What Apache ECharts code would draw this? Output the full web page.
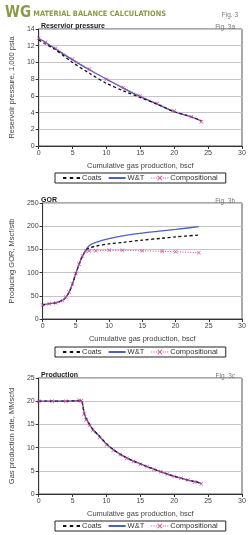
<!DOCTYPE html>
<html><head><meta charset="utf-8">
<script src="https://cdn.jsdelivr.net/npm/echarts@6/dist/echarts.min.js"></script>
<style>html,body{margin:0;padding:0;background:#fff}#c{width:250px;height:535px}</style>
</head><body><div id="c"></div>
<script>
// ---- data ----
const xTickMin = 0, xTickMax = 30, xTickStep = 5;

const presX    = [0, 1, 2.5, 5, 7.5, 10, 12.5, 15, 17.5, 20, 22.5, 24];
const presCoats= [12.7, 12.2, 11.5, 10.0, 8.7, 7.5, 6.6, 5.8, 5.0, 4.1, 3.5, 3.0];
const presWT   = [12.9, 12.4, 11.6, 10.3, 9.1, 8.0, 6.9, 5.9, 5.0, 4.1, 3.5, 3.0];
const presComp = [12.9, 12.4, 11.7, 10.4, 9.2, 8.0, 7.0, 6.0, 5.1, 4.2, 3.5, 2.9];

const gorX     = [0, 1, 2, 3, 3.5, 4, 4.5, 5, 5.5, 6, 6.5, 7, 8, 10, 12, 15, 18, 20, 23.5];
const gorCoats = [30, 33, 35, 40, 47, 58, 76, 98, 118, 136, 147, 153, 157, 162, 165, 170, 174, 177, 181];
const gorWT    = [30, 33, 35, 40, 47, 58, 76, 98, 118, 136, 148, 158, 165, 173, 179, 185, 190, 193, 199];
const gorComp  = [30, 33, 35, 40, 47, 58, 76, 98, 118, 136, 146, 147, 147, 148, 148, 147, 146, 145, 143];

const prodX    = [0, 2, 4, 6, 6.3, 6.7, 7, 7.5, 8, 9, 10, 11, 12, 13, 14, 15, 16, 17, 18, 19, 20, 21, 22, 23, 24];
const prodCoats= [20, 20, 20, 20.1, 20.1, 17.5, 16.2, 15.0, 13.9, 12.4, 10.8, 9.6, 8.6, 7.8, 7.1, 6.5, 5.9, 5.35, 4.8, 4.3, 3.8, 3.4, 3.0, 2.7, 2.3];
const prodWT   = [20, 20, 20, 20.1, 20.1, 17.6, 16.3, 15.0, 13.9, 12.4, 10.8, 9.6, 8.6, 7.8, 7.1, 6.5, 5.9, 5.35, 4.8, 4.3, 3.8, 3.4, 3.0, 2.7, 2.3];
const prodComp = [20, 20, 20, 20.2, 20.1, 17.2, 16.0, 14.8, 13.7, 12.2, 10.6, 9.4, 8.5, 7.7, 7.0, 6.4, 5.9, 5.3, 4.8, 4.3, 3.8, 3.4, 3.0, 2.6, 2.2];

const names = ['Coats', 'W&T', 'Compositional'];
const titles = ['Reservior pressure', 'GOR', 'Production'];
const figs = ['Fig. 3a', 'Fig. 3b', 'Fig. 3c'];
const yNames = ['Reservoir pressure, 1,000 psia', 'Producing GOR, Mscf/stb', 'Gas production rate, MMscfd'];
const yMax = [14, 250, 25], yStep = [2, 50, 5];
const xName = 'Cumulative gas production, bscf';

// ---- styling ----
const FONT = 'Liberation Sans';
const C_COATS = '#111111', C_WT = '#4a62bc', C_COMP = '#d4429e';
const gridTops = [29, 203, 378], gridH = [117, 116, 116];
const legendTops = [173, 347, 521];
const X_PATH = 'path://M0,1L1,0L5,4L9,0L10,1L6,5L10,9L9,10L5,6L1,10L0,9L4,5Z';

const sets = [
  [presX, presCoats, presWT, presComp],
  [gorX, gorCoats, gorWT, gorComp],
  [prodX, prodCoats, prodWT, prodComp]
];

const grids = [], xAxes = [], yAxes = [], series = [], legends = [], titleArr = [];
titleArr.push({text: '{a|WG}{b| MATERIAL BALANCE CALCULATIONS}', left: 0, top: 1,
  textStyle: {rich: {
    a: {fontFamily: 'DejaVu Sans Condensed', fontWeight: 'bold', fontSize: 15, color: '#8d9a45'},
    b: {fontFamily: 'DejaVu Sans Condensed', fontWeight: 'bold', fontSize: 7.4, color: '#8d9a45', padding: [2, 0, 0, 0]}
  }}});
titleArr.push({text: 'Fig. 3', right: 7, top: 7, textStyle: {fontFamily: FONT, fontSize: 6.5, fontWeight: 'normal', color: '#777'}});

for (let i = 0; i < 3; i++) {
  grids.push({left: 36, right: 8, top: gridTops[i], height: gridH[i], show: true, borderColor: '#555', borderWidth: 1, backgroundColor: 'transparent'});
  titleArr.push({text: titles[i], left: 36, top: gridTops[i] - 11, textStyle: {fontFamily: FONT, fontSize: 7, fontWeight: 'bold', color: '#222'}});
  titleArr.push({text: figs[i], right: 10, top: gridTops[i] - 10, textStyle: {fontFamily: FONT, fontSize: 6.5, fontWeight: 'normal', color: '#777'}});
  xAxes.push({type: 'value', gridIndex: i, min: xTickMin, max: xTickMax, interval: xTickStep,
    name: xName, nameLocation: 'middle', nameGap: 16,
    nameTextStyle: {fontFamily: FONT, fontSize: 7.5, color: '#444'},
    axisLine: {lineStyle: {color: '#333', width: 1}}, axisTick: {show: true, length: 3, lineStyle: {color: '#333'}},
    axisLabel: {fontFamily: FONT, fontSize: 7, color: '#444', margin: 4}, splitLine: {show: false}});
  yAxes.push({type: 'value', gridIndex: i, min: 0, max: yMax[i], interval: yStep[i],
    name: yNames[i], nameLocation: 'middle', nameGap: 20, nameRotate: 90,
    nameTextStyle: {fontFamily: FONT, fontSize: 7.5, color: '#444'},
    axisLine: {show: true, lineStyle: {color: '#333', width: 1}}, axisTick: {show: true, length: 3, lineStyle: {color: '#333'}},
    axisLabel: {fontFamily: FONT, fontSize: 7, color: '#444', margin: 4},
    splitLine: {show: true, lineStyle: {color: '#c4c4c4', width: 1}}});
  const [xs, a, b, c] = sets[i];
  const zip = arr => xs.map((x, k) => [x, arr[k]]);
  series.push({name: 'Coats', type: 'line', xAxisIndex: i, yAxisIndex: i, data: zip(a), symbol: 'none', smooth: 0.3,
    color: C_COATS, lineStyle: {color: C_COATS, width: 1.3, type: [3, 2.5]}, z: 3});
  series.push({name: 'W&T', type: 'line', xAxisIndex: i, yAxisIndex: i, data: zip(b), symbol: 'none', smooth: 0.3,
    color: C_WT, lineStyle: {color: C_WT, width: 1.3}, z: 2});
  series.push({name: 'Compositional', type: 'line', xAxisIndex: i, yAxisIndex: i, data: zip(c), symbol: X_PATH, symbolSize: 4, smooth: 0.3,
    color: C_COMP, itemStyle: {color: C_COMP}, lineStyle: {color: C_COMP, width: 1, type: [1, 1.5]}, z: 4});
  legends.push({top: legendTops[i], left: 55, padding: [1, 8, 1, 8], itemGap: 7, itemWidth: 17, itemHeight: 6,
    borderColor: '#222', borderWidth: 1, selectedMode: false,
    textStyle: {fontFamily: FONT, fontSize: 7.5, color: '#333', padding: [0, 0, 0, -3]},
    data: [
      {name: 'Coats', icon: 'path://M0,0h3.4v2h-3.4zM6.8,0h3.4v2h-3.4zM13.6,0h3.4v2h-3.4z', itemStyle: {color: C_COATS}},
      {name: 'W&T', icon: 'path://M0,0h17v2h-17z', itemStyle: {color: C_WT}},
      {name: 'Compositional', icon: 'path://M0,2.6h1v0.8h-1zM2.3,2.6h1v0.8h-1zM4.6,2.6h1v0.8h-1zM6,1L6.8,0.4L8.5,2.4L10.2,0.4L11,1L9.2,3L11,5L10.2,5.6L8.5,3.6L6.8,5.6L6,5L7.8,3ZM11.4,2.6h1v0.8h-1zM13.7,2.6h1v0.8h-1zM16,2.6h1v0.8h-1z', itemStyle: {color: C_COMP}}
    ]});
}

const chart = echarts.init(document.getElementById('c'), null, {renderer: 'canvas'});
chart.setOption({animation: false, backgroundColor: '#fff', title: titleArr, grid: grids, xAxis: xAxes, yAxis: yAxes, legend: legends, series: series});
</script></body></html>
